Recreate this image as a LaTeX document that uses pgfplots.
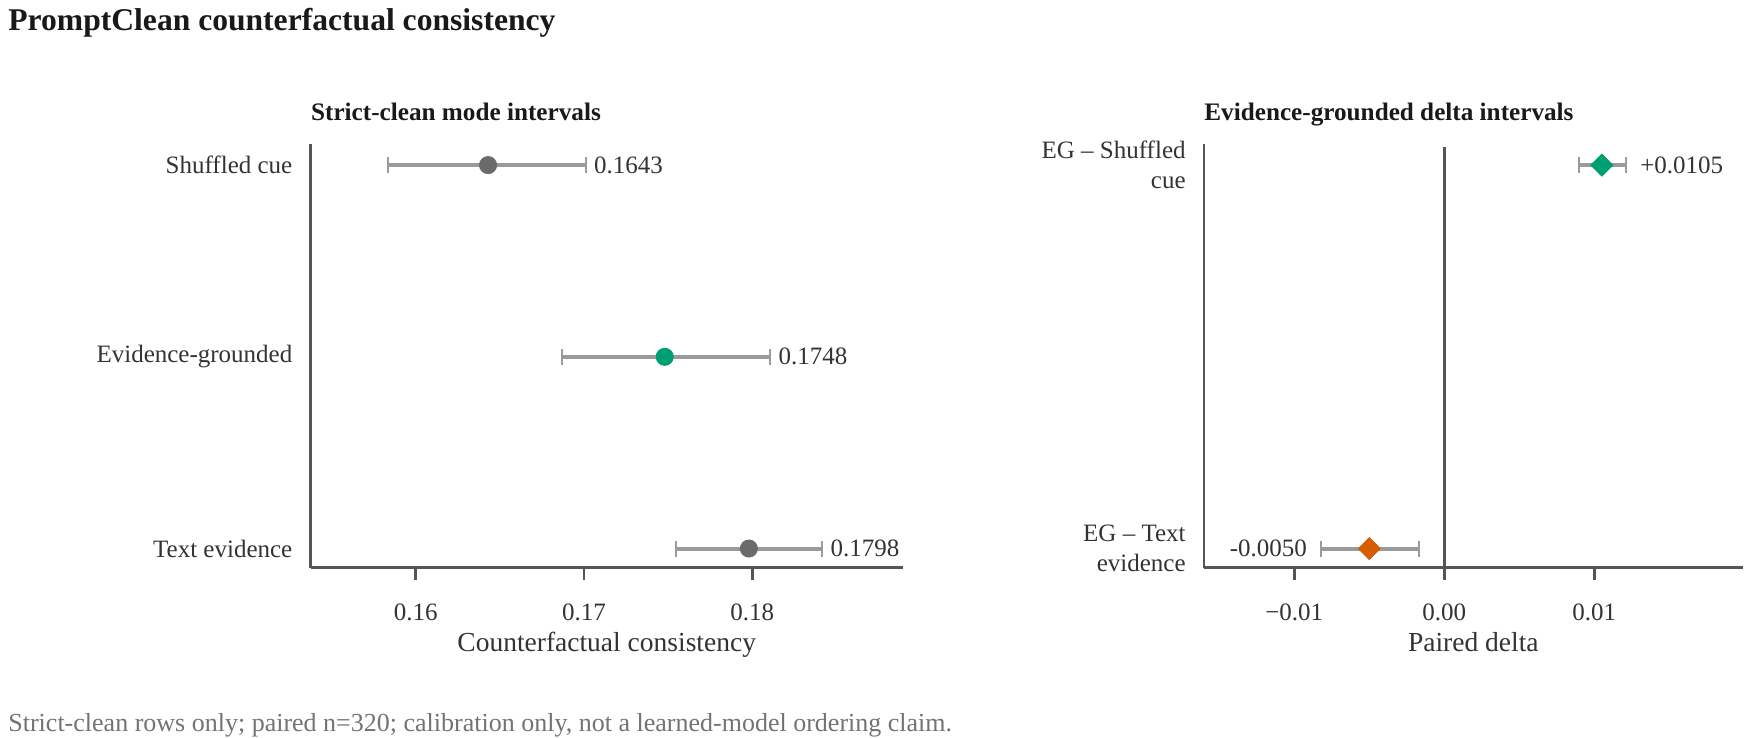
\documentclass[border=0pt]{standalone}
\usepackage{fontspec}
\setmainfont{Liberation Serif}
\usepackage{pgfplots}
\pgfplotsset{compat=1.18}
\usepackage{pgfplotstable}

\definecolor{txt}{HTML}{333333}
\definecolor{spine}{HTML}{555555}
\definecolor{ci}{HTML}{9A9A9A}
\definecolor{dot}{HTML}{6B6B6B}
\definecolor{eg}{HTML}{009E73}
\definecolor{neg}{HTML}{D55E00}

% strict-clean mode intervals (row 0 = top)
\pgfplotstableread{
row est lo hi lab
0 0.1643 0.15837 0.1701 0.1643
2 0.1798 0.17548 0.18416 0.1798
}\modesgray
\pgfplotstableread{
row est lo hi lab
1 0.1748 0.16868 0.18107 0.1748
}\modesgreen

% evidence-grounded deltas
\pgfplotstableread{
row est lo hi lab
0 0.0105 0.0090 0.0121 +0.0105
}\deltapos
\pgfplotstableread{
row est lo hi lab
1 -0.0050 -0.0082 -0.0017 -0.0050
}\deltaneg

\pgfplotsset{
  panel/.style={
    scale only axis, height=211.85pt,
    axis x line*=bottom, axis y line*=left,
    axis line style={-, draw=spine, line width=1.3pt},
    tick align=outside, major tick length=6pt,
    xtick style={draw=spine, line width=1.3pt},
    ytick style={draw=none},
    scaled x ticks=false,
    y dir=reverse, clip=false,
    ticklabel style={font=\fontsize{12.5}{15}\selectfont, text=txt},
    xticklabel style={inner sep=0pt, yshift=-12pt},
    yticklabel style={inner sep=0pt, xshift=-3pt, align=right},
    xlabel style={font=\fontsize{13.75}{16}\selectfont, text=txt,
      at={(axis description cs:0.5,0)}, anchor=base, yshift=-42pt},
    title style={at={(0,1)}, anchor=base west, yshift=5.5pt, inner sep=0pt,
      font=\bfseries\fontsize{12.6}{15}\selectfont, text=black!90},
  },
  cibars/.style={error bars/.cd, x dir=both, x explicit,
    error bar style={ci, line width=2pt},
    error mark options={ci, rotate=90, line width=1pt, mark size=4pt}},
  vallab/.style={draw=none, mark=none, nodes near coords,
    point meta=explicit symbolic,
    nodes near coords style={inner sep=0pt, font=\fontsize{12.5}{15}\selectfont, text=txt}},
}

\begin{document}
\begin{tikzpicture}
\useasboundingbox (0,0) rectangle (873pt,369pt);
\node[anchor=base west, inner sep=0pt, font=\bfseries\fontsize{15.8}{19}\selectfont, text=black!90]
  at (4pt,353.5pt) {PromptClean counterfactual consistency};
\node[anchor=base west, inner sep=0pt, font=\fontsize{13}{15}\selectfont, text=black!55]
  at (4pt,3pt) {Strict-clean rows only; paired n=320; calibration only, not a learned-model ordering claim.};

\begin{axis}[panel, at={(155.35pt,85.15pt)}, anchor=south west, width=296pt,
  xmin=0.15376, xmax=0.18894, ymin=-0.11, ymax=2.10,
  xtick={0.16,0.17,0.18}, xticklabels={0.16,0.17,0.18},
  ytick={0,1,2}, yticklabels={Shuffled cue,Evidence-grounded,Text evidence},
  xlabel={Counterfactual consistency},
  title={Strict-clean mode intervals}]
  \addplot[dot, only marks, mark=*, mark size=4.3pt, cibars]
    table[x=est, y=row, x error plus expr=\thisrow{hi}-\thisrow{est},
      x error minus expr=\thisrow{est}-\thisrow{lo}] {\modesgray};
  \addplot[eg, only marks, mark=*, mark size=4.3pt, cibars]
    table[x=est, y=row, x error plus expr=\thisrow{hi}-\thisrow{est},
      x error minus expr=\thisrow{est}-\thisrow{lo}] {\modesgreen};
  \addplot[vallab, nodes near coords style={anchor=west, xshift=4pt}]
    table[x=hi, y=row, meta=lab] {\modesgray};
  \addplot[vallab, nodes near coords style={anchor=west, xshift=4pt}]
    table[x=hi, y=row, meta=lab] {\modesgreen};
\end{axis}

\begin{axis}[panel, at={(602pt,85.15pt)}, anchor=south west, width=269.35pt,
  xmin=-0.01602, xmax=0.01989, ymin=-0.055, ymax=1.05,
  xtick={-0.01,0,0.01}, xticklabels={−0.01,0.00,0.01},
  ytick={0,1}, yticklabels={{EG – Shuffled\\cue},{EG – Text\\evidence}},
  xlabel={Paired delta},
  title={Evidence-grounded delta intervals}]
  \addplot[spine, line width=1.3pt] coordinates {(0,-0.047) (0,1.05)};
  \addplot[eg, only marks, mark=square*, mark size=3.9pt, mark options={rotate=45}, cibars]
    table[x=est, y=row, x error plus expr=\thisrow{hi}-\thisrow{est},
      x error minus expr=\thisrow{est}-\thisrow{lo}] {\deltapos};
  \addplot[neg, only marks, mark=square*, mark size=3.9pt, mark options={rotate=45}, cibars]
    table[x=est, y=row, x error plus expr=\thisrow{hi}-\thisrow{est},
      x error minus expr=\thisrow{est}-\thisrow{lo}] {\deltaneg};
  \addplot[vallab, nodes near coords style={anchor=west, xshift=7pt}]
    table[x=hi, y=row, meta=lab] {\deltapos};
  \addplot[vallab, nodes near coords style={anchor=east, xshift=-7pt}]
    table[x=lo, y=row, meta=lab] {\deltaneg};
\end{axis}
\end{tikzpicture}
\end{document}
